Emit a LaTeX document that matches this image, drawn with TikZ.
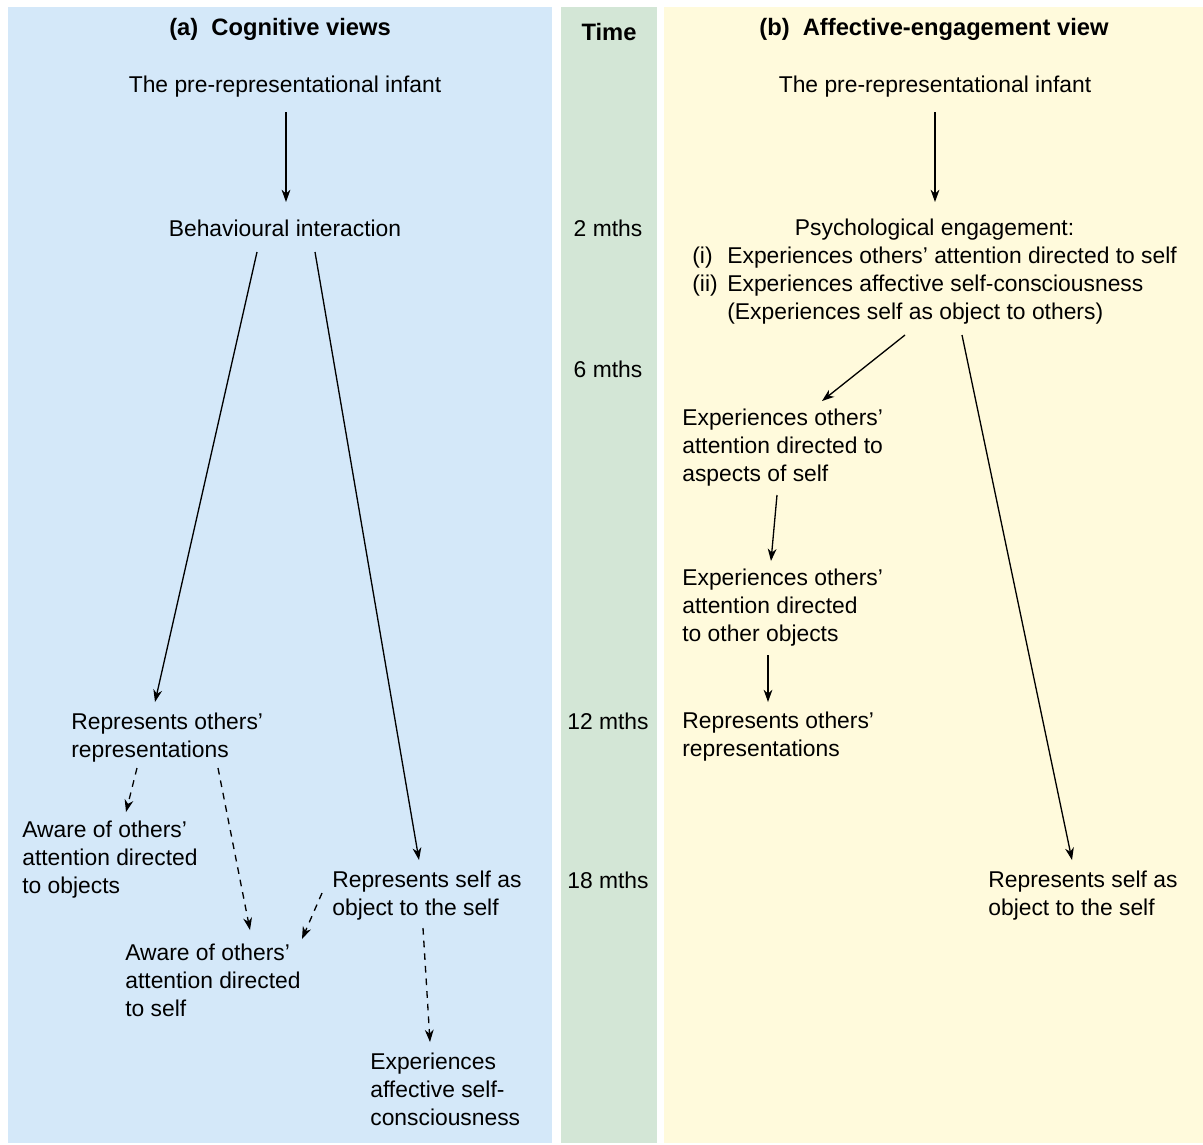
\documentclass[tikz,border=0pt]{standalone}
\usepackage{fontspec}
\setmainfont{Liberation Sans}
\usetikzlibrary{calc,arrows.meta}
\definecolor{cogblue}{RGB}{212,232,249}
\definecolor{timegreen}{RGB}{211,230,214}
\definecolor{affyellow}{RGB}{255,250,220}

\begin{document}
\begin{tikzpicture}[x=0.02cm,y=-0.02cm,>={Stealth[length=7pt,width=5pt,inset=2.2pt]}]
 \tikzstyle{txt} = [inner sep=0pt,font=\fontsize{13}{15.9}\selectfont]
 \tikzstyle{lbl} = [txt,align=left,anchor=north west]
 \tikzstyle{head} = [inner sep=0pt,font=\fontsize{13.5}{16}\selectfont\bfseries]
 \tikzstyle{arr} = [->,line width=0.75pt]
 \tikzstyle{dsh} = [arr,dash pattern=on 3.8pt off 3.4pt]

% Panels (pixel-like units, y downwards)
 \useasboundingbox (0,0) rectangle (1203,1144);
 \fill[cogblue] (8,7) rectangle (552,1143);
 \fill[timegreen] (561,7) rectangle (657,1143);
 \fill[affyellow] (664,7) rectangle (1203,1143);

% Time column
 \node[head] (timeT) at (609,32) {Time};
 \node[txt] (t2) at (608,228) {2 mths};
 \node[txt] (t6) at (608,369) {6 mths};
 \node[txt] (t12) at (608,721) {12 mths};
 \node[txt] (t18) at (608,880) {18 mths};

% (a) cognitive views
 \node[head] (titleA) at (280,29) {(a)\ \ Cognitive views};
 \node[txt] (infA) at (285,87) {The pre-representational infant};
 \node[txt] (behA) at (285,228) {Behavioural interaction};
 \node[lbl] (repOthA) at (71,713) {Represents others’\\representations};
 \node[lbl] (awObjA) at (22,821) {Aware of others’\\attention directed\\to objects};
 \node[lbl] (awSelfA) at (125,944) {Aware of others’\\attention directed\\to self};
 \node[lbl] (repSelfA) at (332,871) {Represents self as\\object to the self};
 \node[lbl] (expA) at (370,1053) {Experiences\\affective self-\\consciousness};

 \draw[arr] ($(infA)+(1,25)$) -- ($(behA)+(1,-26)$);
 \draw[arr] ($(behA)+(-28,24)$) -- ($(repOthA.north west)+(84,-11)$);
 \draw[arr] ($(behA)+(30,24)$) -- ($(repSelfA.north west)+(87,-11)$);
 \draw[dsh] ($(repOthA.north west)+(66,55)$) -- ($(awObjA.north west)+(104,-9)$);
 \draw[dsh] ($(repOthA.north west)+(147,55)$) -- ($(awSelfA.north west)+(125,-14)$);
 \draw[dsh] ($(repSelfA.north west)+(-10,22)$) -- ($(awSelfA.north west)+(177,-5)$);
 \draw[dsh] ($(repSelfA.north west)+(91,57)$) -- ($(expA.north west)+(60,-11)$);

% (b) affective-engagement view
 \node[head] (titleB) at (934,29) {(b)\ \ Affective-engagement view};
 \node[txt] (infB) at (935,87) {The pre-representational infant};
 \node[txt,anchor=north west] (psyB) at (692,216) {%
  \begin{tabular}{@{}l@{\hspace{5.5pt}}l@{}}
   \multicolumn{2}{c}{Psychological engagement:}\\
   (i) & Experiences others’ attention directed to self\\
   (ii) & Experiences affective self-consciousness\\
   & (Experiences self as object to others)
  \end{tabular}};
 \node[lbl] (aspB) at (682,409) {Experiences others’\\attention directed to\\aspects of self};
 \node[lbl] (othObjB) at (682,569) {Experiences others’\\attention directed\\to other objects};
 \node[lbl] (repOthB) at (682,712) {Represents others’\\representations};
 \node[lbl] (repSelfB) at (988,871) {Represents self as\\object to the self};

 \draw[arr] ($(infB)+(0,25)$) -- ($(psyB.north west)+(243,-14)$);
 \draw[arr] ($(psyB.north west)+(213,119)$) -- ($(aspB.north west)+(140,-8)$);
 \draw[arr] ($(aspB.north west)+(95,86)$) -- ($(othObjB.north west)+(89,-8)$);
 \draw[arr] ($(othObjB.north west)+(86,86)$) -- ($(repOthB.north west)+(86,-10)$);
 \draw[arr] ($(psyB.north west)+(270,119)$) -- ($(repSelfB.north west)+(84,-11)$);
\end{tikzpicture}
\end{document}
